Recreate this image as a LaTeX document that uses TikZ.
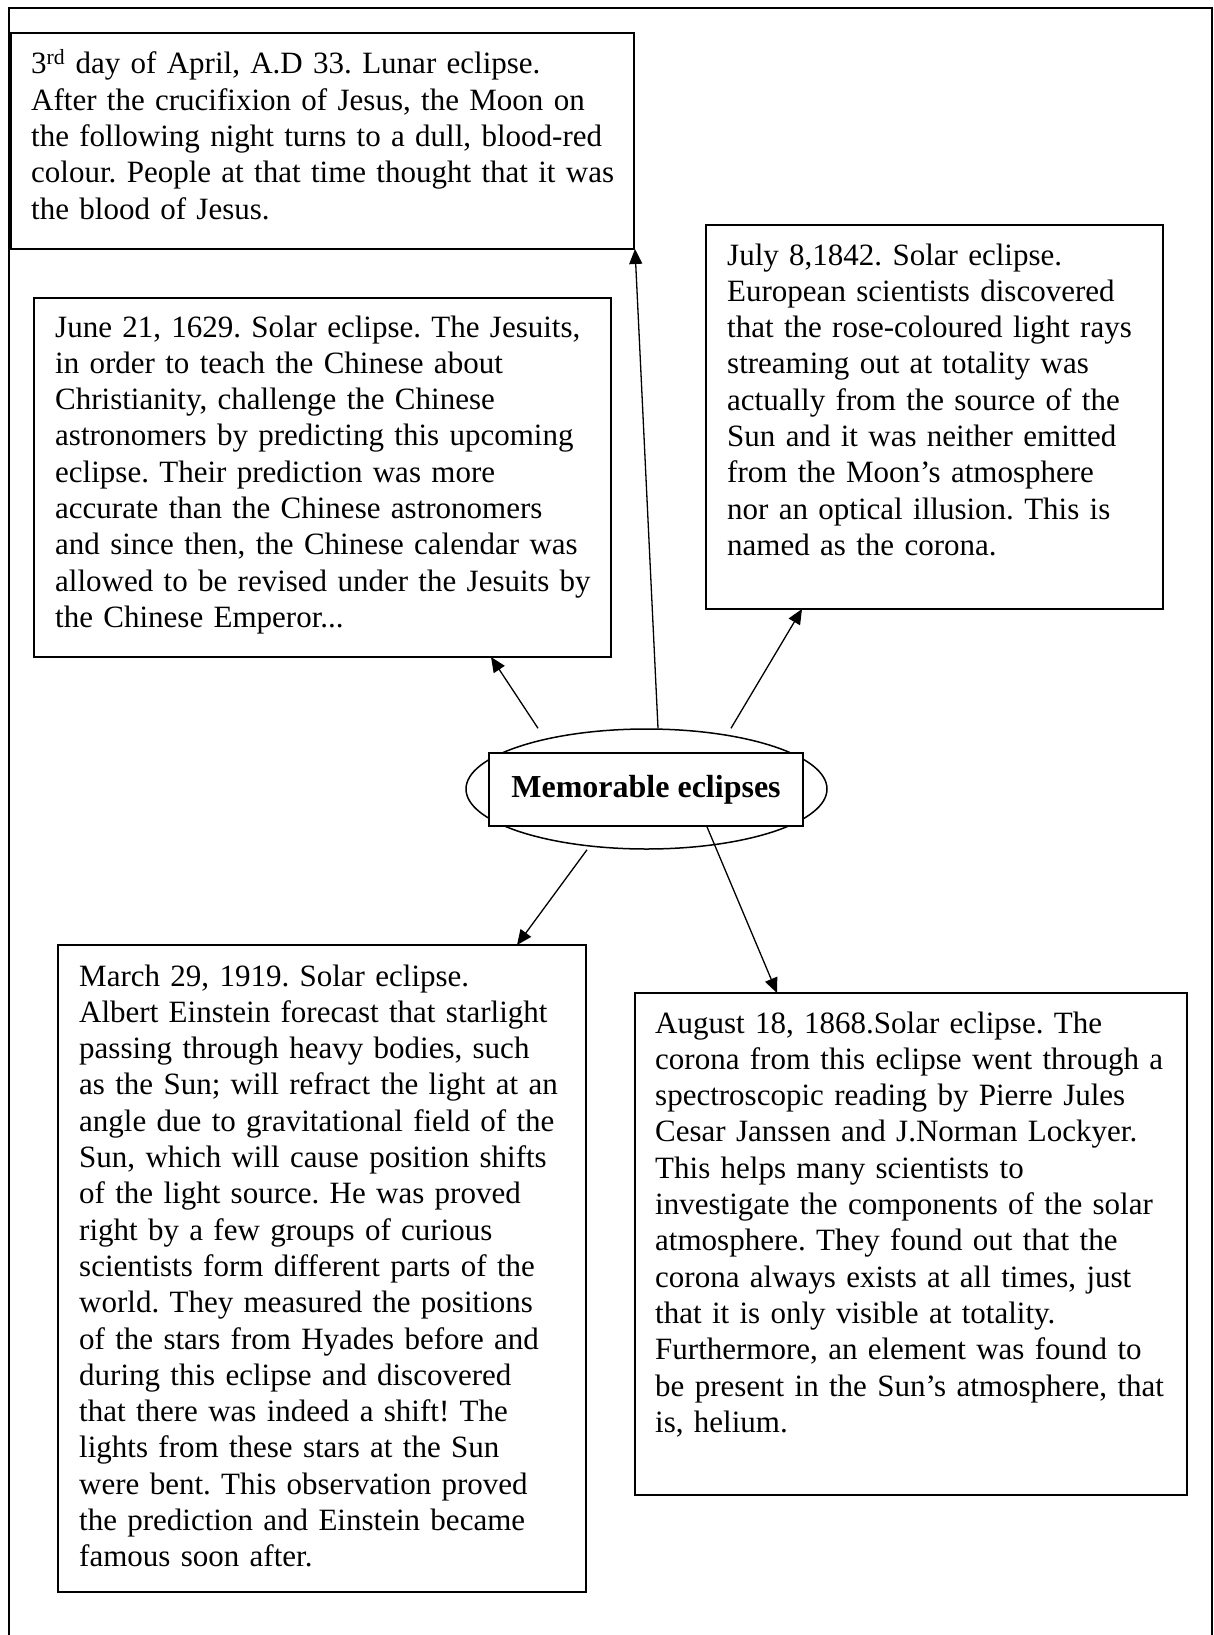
\documentclass[tikz,border=0pt]{standalone}
\usepackage{fontspec}
\setmainfont{Liberation Serif}
\usetikzlibrary{shapes.geometric,arrows.meta}
\frenchspacing
\begin{document}
\begin{tikzpicture}[x=1pt,y=-1pt,
  box/.style={draw,line width=1.7pt,rectangle,anchor=north west,inner sep=0pt,outer sep=0pt},
  txt/.style={anchor=base west,inner sep=0pt,text width=700pt,align=left,font={\fontsize{31}{36.3}\selectfont\frenchspacing}},
  arr/.style={line width=1.3pt,-{Triangle[length=15pt,width=13pt]}}]
\useasboundingbox (0,0) rectangle (1213,1635);
% outer frame
\draw[line width=2pt] (9,1640) -- (9,8) -- (1212,8) -- (1212,1640);
% boxes
\node[box,minimum width=623pt,minimum height=216pt] (A) at (11,33) {};
\node[box,minimum width=577pt,minimum height=359pt] (B) at (34,298) {};
\node[box,minimum width=457pt,minimum height=384pt] (C) at (706,225) {};
\node[box,minimum width=528pt,minimum height=647pt] (D) at (58,945) {};
\node[box,minimum width=552pt,minimum height=502pt] (E) at (635,993) {};
% texts
\node[txt] (tA) at ([xshift=20pt,yshift=-41pt]A.north west) {3\textsuperscript{rd} day of April, A.D 33. Lunar eclipse.\\After the crucifixion of Jesus, the Moon on\\the following night turns to a dull, blood-red\\colour. People at that time thought that it was\\the blood of Jesus.};
\node[txt] (tB) at ([xshift=21pt,yshift=-39pt]B.north west) {June 21, 1629. Solar eclipse. The Jesuits,\\in order to teach the Chinese about\\Christianity, challenge the Chinese\\astronomers by predicting this upcoming\\eclipse. Their prediction was more\\accurate than the Chinese astronomers\\and since then, the Chinese calendar was\\allowed to be revised under the Jesuits by\\the Chinese Emperor...};
\node[txt] (tC) at ([xshift=21pt,yshift=-40pt]C.north west) {July 8,1842. Solar eclipse.\\European scientists discovered\\that the rose-coloured light rays\\streaming out at totality was\\actually from the source of the\\Sun and it was neither emitted\\from the Moon’s atmosphere\\nor an optical illusion. This is\\named as the corona.};
\node[txt] (tD) at ([xshift=21pt,yshift=-41pt]D.north west) {March 29, 1919. Solar eclipse.\\Albert Einstein forecast that starlight\\passing through heavy bodies, such\\as the Sun; will refract the light at an\\angle due to gravitational field of the\\Sun, which will cause position shifts\\of the light source. He was proved\\right by a few groups of curious\\scientists form different parts of the\\world. They measured the positions\\of the stars from Hyades before and\\during this eclipse and discovered\\that there was indeed a shift! The\\lights from these stars at the Sun\\were bent. This observation proved\\the prediction and Einstein became\\famous soon after.};
\node[txt] (tE) at ([xshift=20pt,yshift=-40pt]E.north west) {August 18, 1868.Solar eclipse. The\\corona from this eclipse went through a\\spectroscopic reading by Pierre Jules\\Cesar Janssen and J.Norman Lockyer.\\This helps many scientists to\\investigate the components of the solar\\atmosphere. They found out that the\\corona always exists at all times, just\\that it is only visible at totality.\\Furthermore, an element was found to\\be present in the Sun’s atmosphere, that\\is, helium.};
% centre
\node[draw,ellipse,line width=1.5pt,minimum width=361pt,minimum height=120pt,inner sep=0pt] (ell) at (646.5,789) {};
\node[draw,fill=white,line width=1.7pt,rectangle,minimum width=314pt,minimum height=73pt,inner sep=0pt,font={\fontsize{32}{36.3}\selectfont\bfseries}] (mid) at (646,789.5) {Memorable eclipses};
% connectors
\draw[arr] ([xshift=11.5pt]ell.north) -- ([xshift=1pt]A.south east);
\draw[arr] ([xshift=-108.5pt]ell.north) -- ([xshift=168.5pt]B.south);
\draw[arr] ([xshift=84.5pt]ell.north) -- ([xshift=-132.5pt]C.south);
\draw[arr] ([xshift=-59.5pt]ell.south) -- ([xshift=195pt]D.north);
\draw[arr] ([xshift=61pt]mid.south) -- ([xshift=-134pt]E.north);
\end{tikzpicture}
\end{document}
